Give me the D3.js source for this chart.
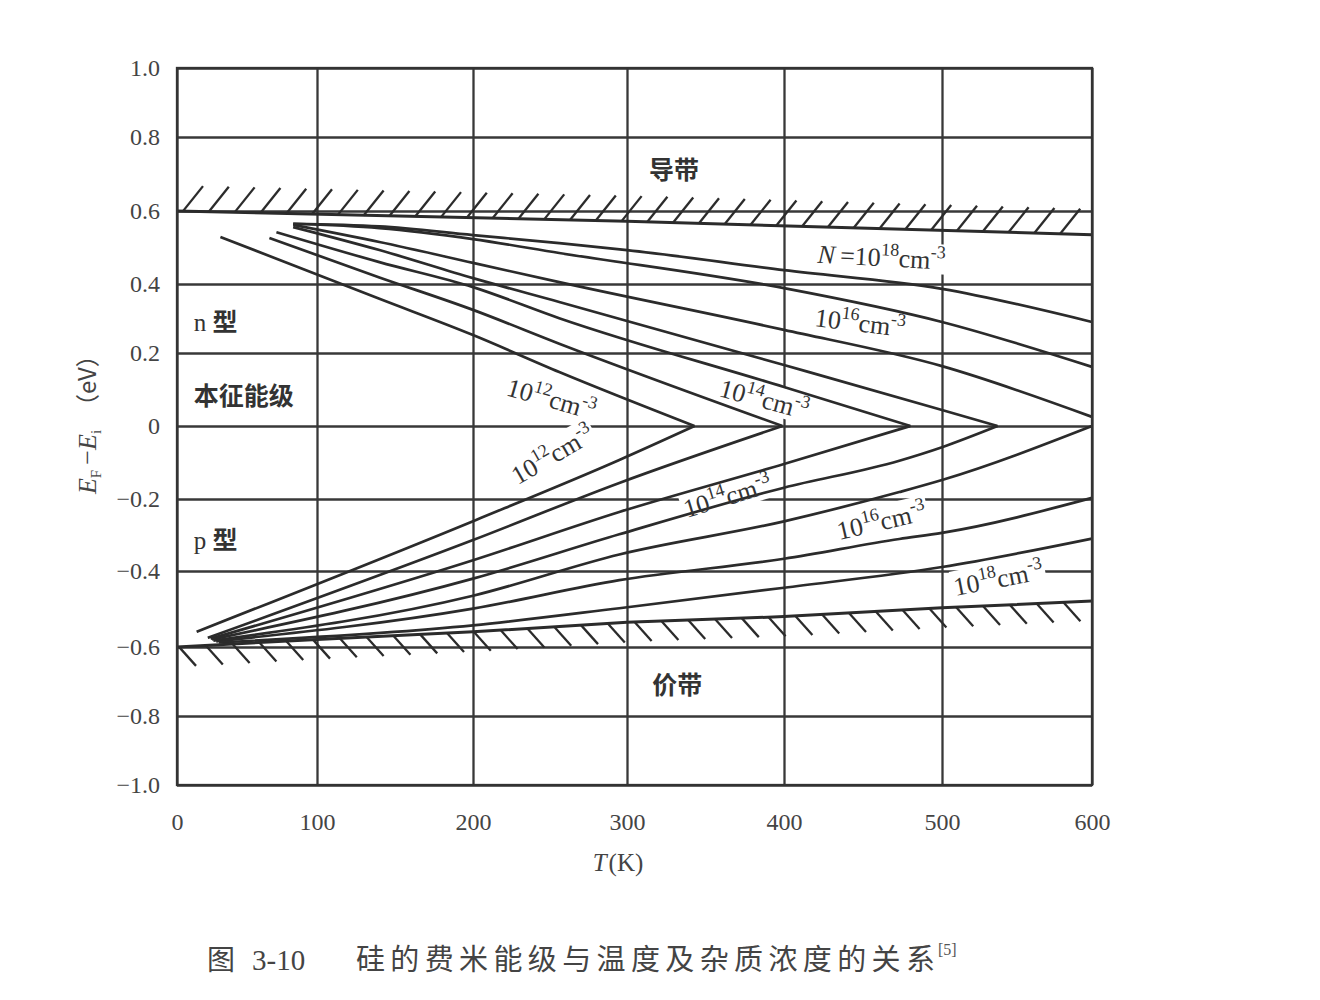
<!DOCTYPE html>
<html><head><meta charset="utf-8">
<script src="https://cdn.jsdelivr.net/npm/d3@7"></script>
<style>
body{margin:0;background:#fff}
.serif{font-family:"Liberation Serif","DejaVu Serif",serif}
.cjk{font-family:"Noto Sans CJK SC",sans-serif}
</style>
</head><body>
<svg id="chart" width="1320" height="1000"></svg>
<script>
// ================= DATA =================
const tTicks = [0, 100, 200, 300, 400, 500, 600];              // T (K)
const eTicks = [1.0, 0.8, 0.6, 0.4, 0.2, 0, -0.2, -0.4, -0.6, -0.8, -1.0]; // EF-Ei (eV)
const eTickLabels = ["1.0","0.8","0.6","0.4","0.2","0","\u22120.2","\u22120.4","\u22120.6","\u22120.8","\u22121.0"];
const logN = [12, 13, 14, 15, 16, 17, 18];                      // N = 10^logN cm^-3

// n-type branches [T, EF-Ei]
const nType12 = [[31,0.529],[140,0.357],[200,0.252],[256,0.148],[343,0]];
const nType13 = [[66,0.526],[140,0.418],[200,0.325],[256,0.227],[399,0]];
const nType14 = [[71,0.542],[140,0.460],[200,0.391],[256,0.301],[400,0.107],[480,0]];
const nType15 = [[83,0.556],[140,0.493],[200,0.416],[256,0.348],[400,0.167],[500,0.044],[537,0]];
const nType16 = [[83,0.562],[140,0.515],[200,0.458],[256,0.405],[400,0.267],[500,0.164],[600,0.025]];
const nType17 = [[83,0.565],[140,0.553],[200,0.523],[256,0.485],[400,0.388],[500,0.290],[600,0.162]];
const nType18 = [[83,0.565],[140,0.558],[200,0.534],[256,0.512],[300,0.493],[400,0.438],[500,0.386],[600,0.290]];

// p-type branches [T, EF-Ei]
const pType12 = [[14,-0.560],[202,-0.258],[295,-0.093],[343,0]];
const pType13 = [[22,-0.576],[200,-0.314],[295,-0.156],[399,0]];
const pType14 = [[24,-0.578],[200,-0.370],[295,-0.236],[400,-0.104],[480,0]];
const pType15 = [[25,-0.580],[200,-0.420],[295,-0.298],[400,-0.169],[473,-0.095],[500,-0.058],[537,0]];
const pType16 = [[26,-0.583],[200,-0.465],[295,-0.354],[400,-0.262],[473,-0.181],[500,-0.148],[600,0]];
const pType17 = [[28,-0.585],[200,-0.499],[295,-0.424],[400,-0.366],[473,-0.311],[500,-0.294],[600,-0.197]];
const pType18 = [[30,-0.588],[200,-0.543],[295,-0.498],[400,-0.444],[500,-0.389],[600,-0.310]];

// band edges [T, E - Ei]
const conductionEdge = [[0,0.600],[300,0.572],[600,0.535]];
const valenceEdge = [[0,-0.600],[100,-0.580],[200,-0.560],[300,-0.535],[400,-0.520],[500,-0.497],[600,-0.479]];

const nCurves = [nType12,nType13,nType14,nType15,nType16,nType17,nType18];
const pCurves = [pType12,pType13,pType14,pType15,pType16,pType17,pType18];

// curve labels: exponent, prefix
const labelExps   = ["18","16","14","12","12","14","16","18"];
const labelPrefix = ["N =","","","","","","",""];

// ================= LAYOUT =================
const X_PIX = [177, 317, 473, 627, 784, 942, 1092];
const Y_PIX = [68, 137, 211, 284, 353, 426, 499, 571, 647, 716, 785];
// label anchors in data coordinates (T, E) and rotation
const labelAnchor = [[421,0.458,3],[419,0.278,7],[358,0.082,15],[221,0.085,16],
                     [229,-0.162,-30],[338,-0.253,-17],[435,-0.314,-13],[509,-0.466,-11]];

const INK = "#333";
const svg = d3.select("#chart");
const x = d3.scaleLinear().domain(tTicks).range(X_PIX);
const y = d3.scaleLinear().domain(eTicks).range(Y_PIX);
const pL = x(0), pR = x(600), pT = y(1), pB = y(-1);

// ---- gridlines ----
const grid = svg.append("g");
grid.append("g").attr("transform",`translate(0,${pT})`)
  .call(d3.axisBottom(x).tickValues(tTicks).tickSize(pB-pT).tickFormat(""))
  .call(g=>g.select(".domain").remove())
  .call(g=>g.selectAll("line").attr("stroke","#383838").attr("stroke-width",2.3));
grid.append("g").attr("transform",`translate(${pL},0)`)
  .call(d3.axisRight(y).tickValues(eTicks).tickSize(pR-pL).tickFormat(""))
  .call(g=>g.select(".domain").remove())
  .call(g=>g.selectAll("line").attr("stroke","#383838").attr("stroke-width",2.3));

// ---- tick labels ----
svg.append("g").attr("transform",`translate(0,${pB})`)
  .call(d3.axisBottom(x).tickValues(tTicks).tickSize(0).tickPadding(28).tickFormat(d3.format("d")))
  .call(g=>g.select(".domain").remove())
  .call(g=>g.selectAll("text").attr("class","serif").attr("font-size",24).attr("fill","#444"));
svg.append("g").attr("transform",`translate(${pL},0)`)
  .call(d3.axisLeft(y).tickValues(eTicks).tickSize(0).tickPadding(17).tickFormat((d,i)=>eTickLabels[i]))
  .call(g=>g.select(".domain").remove())
  .call(g=>g.selectAll("text").attr("class","serif").attr("font-size",24).attr("fill","#444"));

// ---- layers ----
const bgLayer = svg.append("g");
const curveLayer = svg.append("g");
const textLayer = svg.append("g");

// ---- curves ----
const line = d3.line().x(d=>x(d[0])).y(d=>y(d[1])).curve(d3.curveMonotoneX);
curveLayer.selectAll("path.n").data(nCurves).join("path").attr("class","n")
  .attr("d",line).attr("fill","none").attr("stroke","#2b2b2b").attr("stroke-width",2.7);
curveLayer.selectAll("path.p").data(pCurves).join("path").attr("class","p")
  .attr("d",line).attr("fill","none").attr("stroke","#2b2b2b").attr("stroke-width",2.7);

// ---- band edges with hatching ----
const edgeLine = d3.line().x(d=>x(d[0])).y(d=>y(d[1]));
curveLayer.append("path").attr("d",edgeLine(conductionEdge)).attr("fill","none").attr("stroke","#2b2b2b").attr("stroke-width",3);
curveLayer.append("path").attr("d",edgeLine(valenceEdge)).attr("fill","none").attr("stroke","#2b2b2b").attr("stroke-width",3);
const cb = d3.scaleLinear().domain(conductionEdge.map(d=>d[0])).range(conductionEdge.map(d=>d[1]));
const vb = d3.scaleLinear().domain(valenceEdge.map(d=>d[0])).range(valenceEdge.map(d=>d[1]));
const hatchUp = d3.range(35).map(i=>pL+6+i*25.8);
curveLayer.selectAll("line.hu").data(hatchUp).join("line").attr("class","hu")
  .attr("x1",px=>px).attr("y1",px=>y(cb(x.invert(px))))
  .attr("x2",px=>px+20).attr("y2",px=>y(cb(x.invert(px)))-25)
  .attr("stroke","#2b2b2b").attr("stroke-width",2.3);
const hatchDn = d3.range(34).map(i=>pL+2+i*26.8);
curveLayer.selectAll("line.hd").data(hatchDn).join("line").attr("class","hd")
  .attr("x1",px=>px).attr("y1",px=>y(vb(x.invert(px))))
  .attr("x2",px=>px+17).attr("y2",px=>y(vb(x.invert(px)))+19)
  .attr("stroke","#2b2b2b").attr("stroke-width",2.3);

// ---- frame ----
svg.append("rect").attr("x",pL).attr("y",pT).attr("width",pR-pL).attr("height",pB-pT)
  .attr("fill","none").attr("stroke","#333").attr("stroke-width",2.3);

// ---- curve labels ----
labelExps.forEach((ex,i)=>{
  const [t,e,ang] = labelAnchor[i];
  const tr = `translate(${x(t)},${y(e)}) rotate(${ang})`;
  const g = textLayer.append("g").attr("transform",tr);
  const txt = g.append("text").attr("class","serif").attr("font-size",26).attr("fill",INK);
  if (labelPrefix[i]) {
    txt.append("tspan").attr("font-style","italic").text("N");
    txt.append("tspan").text("\u2009=");
  }
  txt.append("tspan").text("10");
  txt.append("tspan").attr("font-size",18).attr("dy",-11).text(ex);
  txt.append("tspan").attr("dy",11).text("cm");
  txt.append("tspan").attr("font-size",18).attr("dy",-11).text("-3");
  const bb = txt.node().getBBox();
  bgLayer.append("rect").attr("transform",tr)
    .attr("x",bb.x-2).attr("y",bb.y+2).attr("width",bb.width+4).attr("height",bb.height-3)
    .attr("fill","#fff");
});

// ---- region labels ----
function region(txtParts, px, py, anchor){
  const t = textLayer.append("text").attr("x",px).attr("y",py).attr("text-anchor",anchor||"start")
    .attr("fill",INK).attr("font-size",25);
  txtParts.forEach(p=>{
    t.append("tspan").attr("class",p[1]).attr("font-weight",p[1]==="cjk"?700:400).text(p[0]);
  });
}
region([["导带","cjk"]], x(330), y(0.686), "middle");
region([["价带","cjk"]], x(332), y(-0.735), "middle");
region([["n ","serif"],["型","cjk"]], x(12), y(0.265));
region([["本征能级","cjk"]], x(12), y(0.058));
region([["p ","serif"],["型","cjk"]], x(12), y(-0.338));

// ---- axis titles ----
const xt = svg.append("text").attr("class","serif").attr("x",618).attr("y",871)
  .attr("text-anchor","middle").attr("font-size",25).attr("fill","#444");
xt.append("tspan").attr("font-style","italic").text("T");
xt.append("tspan").attr("dx",2).text("(K)");

const yt = svg.append("text").attr("class","serif").attr("font-size",26).attr("fill","#444")
  .attr("text-anchor","middle").attr("transform",`translate(96,${y(0.02)}) rotate(-90)`);
yt.append("tspan").attr("font-style","italic").text("E");
yt.append("tspan").attr("font-size",15).attr("dy",5).text("F");
yt.append("tspan").attr("dy",-5).text("\u2009\u2212");
yt.append("tspan").attr("font-style","italic").text("E");
yt.append("tspan").attr("font-size",15).attr("dy",5).text("i");
yt.append("tspan").attr("dy",-5).attr("class","cjk").attr("font-size",24).text("\u2002（eV）");

// ---- caption ----
svg.append("text").attr("class","cjk").attr("x",207).attr("y",970).attr("font-size",28).attr("fill","#444").text("图");
svg.append("text").attr("class","serif").attr("x",252).attr("y",970).attr("font-size",29).attr("fill","#444").text("3-10");
svg.append("text").attr("class","cjk").attr("x",356).attr("y",970).attr("font-size",29).attr("fill","#444")
  .attr("textLength",579).attr("lengthAdjust","spacing").text("硅的费米能级与温度及杂质浓度的关系");
svg.append("text").attr("class","serif").attr("x",938).attr("y",955).attr("font-size",16).attr("fill","#555").text("[5]");
</script>
</body></html>
